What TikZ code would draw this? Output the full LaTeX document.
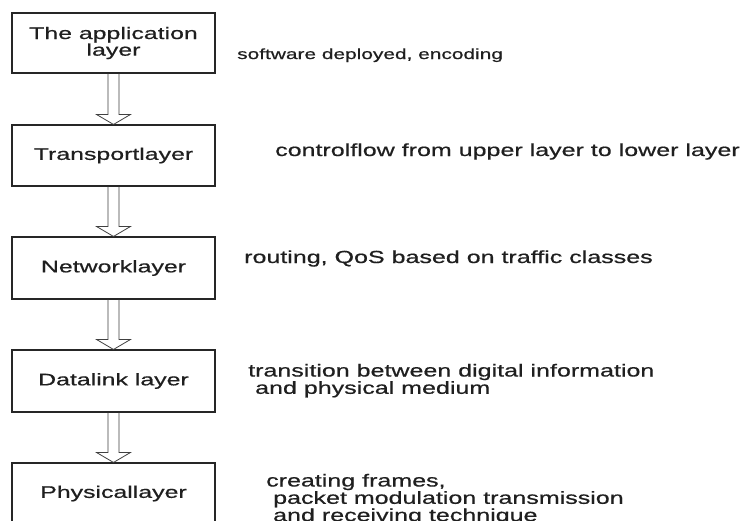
\documentclass[tikz,border=0pt]{standalone}
\usepackage{fontspec}
\setmainfont{Liberation Sans}
\newfontfamily\boxfont[FakeStretch=1.48,FakeBold=0.6]{Liberation Sans}
\newfontfamily\sidefont[FakeStretch=1.43,FakeBold=0.6]{Liberation Sans}
\newcommand\toplines[1]{\vtop{\halign{##\hfil\cr#1\crcr}}}
\usetikzlibrary{calc}
\begin{document}
\begin{tikzpicture}[x=1pt,y=1pt,
  layerbox/.style={draw=black!85,line width=1.1pt,rectangle,minimum width=203pt,inner sep=0pt,
    font=\boxfont\fontsize{16.8}{13.5}\selectfont,text=black!88,align=center},
  sidetext/.style={inner sep=0pt,anchor=base west,text=black!88,
    font=\sidefont\fontsize{17.5}{15.5}\selectfont},
  smalltext/.style={inner sep=0pt,anchor=base west,text=black!88,
    font=\sidefont\fontsize{14.6}{15}\selectfont},
  blockarrow/.style={draw=black!75,line width=0.8pt,line join=miter}
]
\useasboundingbox[fill=white] (0,0) rectangle (742,-520);
\node[layerbox,minimum height=60pt] (b1) at (113.5,-43) {The application\\layer};
\node[layerbox,minimum height=61pt] (b2) at (113.5,-155.5) {Transportlayer};
\node[layerbox,minimum height=62pt] (b3) at (113.5,-268) {Networklayer};
\node[layerbox,minimum height=62pt] (b4) at (113.5,-381) {Datalink layer};
\node[layerbox,minimum height=61pt] (b5) at (113.5,-493.5) {Physicallayer};

\foreach \a/\b in {b1/b2,b2/b3,b3/b4,b4/b5}{
  \draw[blockarrow] let \p1=(\a.south), \p2=(\b.north) in
    (\x1-5.5,\y1) -- (\x1-5.5,\y2+10) -- (\x1-17,\y2+10) -- (\x2,\y2)
    -- (\x1+17,\y2+10) -- (\x1+5.5,\y2+10) -- (\x1+5.5,\y1);
}

\node[smalltext] (t1) at (237,-59) {software deployed, encoding};
\node[sidetext] (t2) at (275,-156) {controlflow from upper layer to lower layer};
\node[sidetext] (t3) at (244,-263) {routing, QoS based on traffic classes};
\node[sidetext] (t4) at (248,-376.5) {\toplines{transition between digital information\cr\hspace*{7pt}and physical medium}};
\node[sidetext] (t5) at (266,-486.5) {\toplines{creating frames,\cr\hspace*{7pt}packet modulation transmission\cr\hspace*{7pt}and receiving technique}};
\end{tikzpicture}
\end{document}
